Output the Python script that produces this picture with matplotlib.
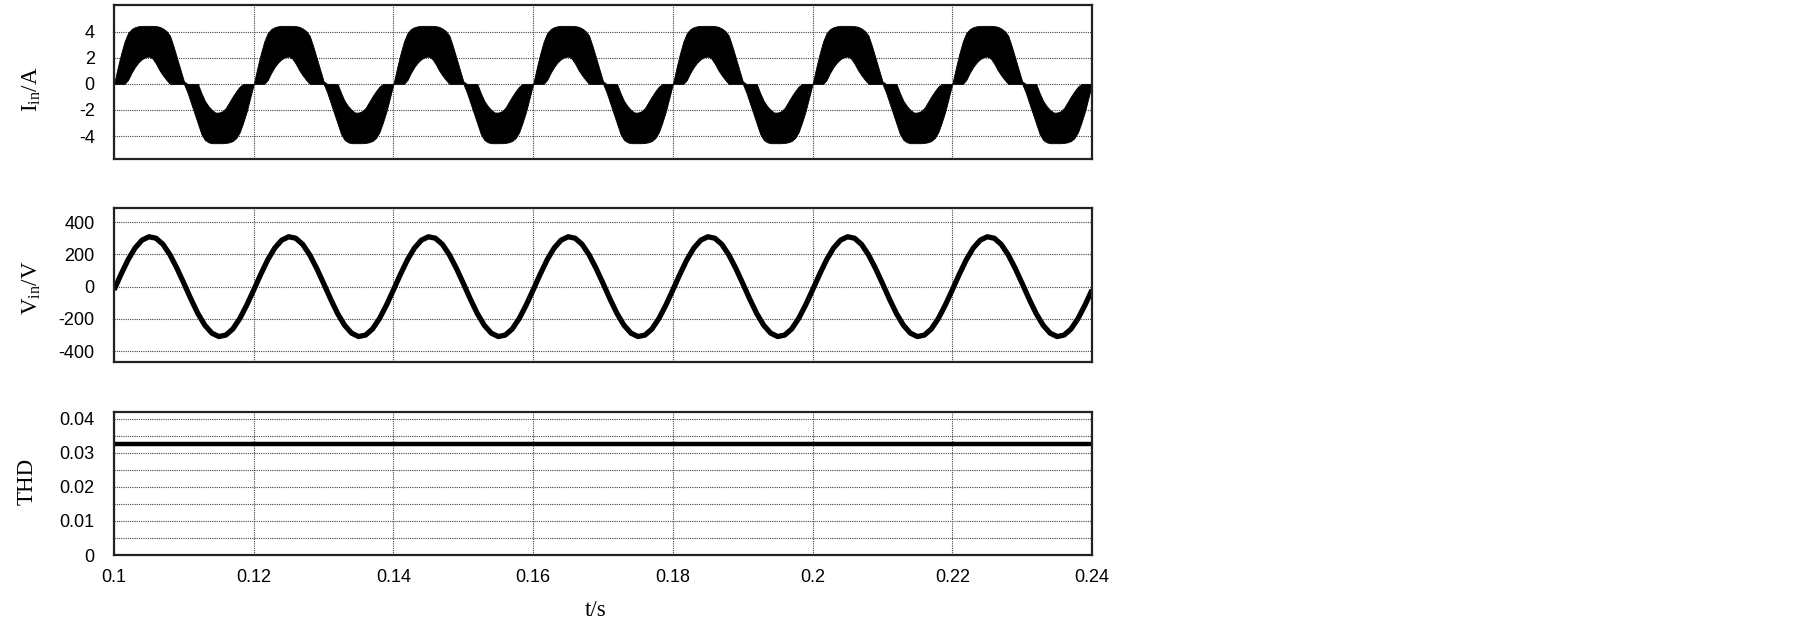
import numpy as np
import matplotlib
matplotlib.use('Agg')
from matplotlib import pyplot as plt
from matplotlib.ticker import MultipleLocator

plt.rcParams['font.family'] = ['Liberation Sans', 'DejaVu Sans']
plt.rcParams['axes.unicode_minus'] = False

# one period (20 ms) of the input current band, read every 0.5 ms
period_ms = [0, 0.5, 1, 1.5, 2, 2.5, 3, 3.5, 4, 4.5, 5, 5.5, 6, 6.5, 7, 7.5, 8, 8.5, 9, 9.5,
             10, 10.5, 11, 11.5, 12, 12.5, 13, 13.5, 14, 14.5, 15, 15.5, 16, 16.5, 17, 17.5,
             18, 18.5, 19, 19.5, 20]
i_upper = [0, 1.2, 2.3, 3.25, 3.9, 4.2, 4.35, 4.42, 4.45, 4.45, 4.45, 4.45, 4.43, 4.38, 4.25,
           4.05, 3.7, 2.9, 2.0, 1.1, 0.2, 0, 0, 0, 0, -0.7, -1.3, -1.7, -2.0, -2.2, -2.2,
           -2.1, -1.85, -1.4, -0.95, -0.55, -0.2, 0, 0, 0, 0]
i_lower = [0, 0, 0, 0, 0.3, 0.85, 1.3, 1.65, 1.9, 2.05, 2.1, 1.95, 1.55, 1.05, 0.65, 0.3, 0, 0,
           0, 0, 0, -0.65, -1.45, -2.25, -3.05, -3.85, -4.3, -4.48, -4.55, -4.55, -4.55, -4.55,
           -4.53, -4.48, -4.38, -4.15, -3.7, -2.95, -2.1, -1.05, 0]

# one period of the input voltage, read every 1 ms
v_period_ms = [0, 1, 2, 3, 4, 5, 6, 7, 8, 9, 10, 11, 12, 13, 14, 15, 16, 17, 18, 19, 20]
v_in = [-20, 77, 167, 240, 289, 310, 301, 263, 198, 114, 20, -77, -167, -240, -289, -310,
        -301, -263, -198, -114, -20]

# THD
thd_t = [0.1, 0.12, 0.12, 0.24]
thd = [0.0325, 0.0325, 0.0327, 0.0327]

t_start = 0.1
n_periods = 7
x_ticks = [0.1, 0.12, 0.14, 0.16, 0.18, 0.2, 0.22, 0.24]


def tile_period(t_ms, values):
    t_ms = np.asarray(t_ms, dtype=float)
    values = np.asarray(values, dtype=float)
    ts, vs = [], []
    for k in range(n_periods):
        sl = slice(0, None) if k == 0 else slice(1, None)
        ts.append(t_start + (k * 20 + t_ms[sl]) / 1000.0)
        vs.append(values[sl])
    return np.concatenate(ts), np.concatenate(vs)


def style_axes(ax):
    for sp in ax.spines.values():
        sp.set_linewidth(1.6)
        sp.set_color('#222222')
    ax.set_xlim(x_ticks[0], x_ticks[-1])
    ax.set_xticks(x_ticks)
    ax.tick_params(length=0, pad=14, labelsize=13)
    ax.grid(True, which='both', linestyle=(0, (1, 1)), color='#444444', linewidth=0.8)
    ax.set_axisbelow(True)


def main():
    fig = plt.figure(figsize=(18.05, 6.23), dpi=100)
    ax1 = fig.add_axes([0.0632, 0.7448, 0.5418, 0.2472])
    ax2 = fig.add_axes([0.0632, 0.4190, 0.5418, 0.2472])
    ax3 = fig.add_axes([0.0632, 0.1091, 0.5418, 0.2295])

    t_i, up = tile_period(period_ms, i_upper)
    _, lo = tile_period(period_ms, i_lower)
    ax1.fill_between(t_i, lo, up, color='black', linewidth=0.6, edgecolor='black')
    ax1.set_ylim(-5.76, 6.05)
    ax1.set_yticks([-4, -2, 0, 2, 4])
    style_axes(ax1)
    ax1.set_xticklabels([])

    t_v, v = tile_period(v_period_ms, v_in)
    ax2.plot(t_v, v, color='black', linewidth=3.8, solid_capstyle='butt')
    ax2.set_ylim(-468, 489)
    ax2.set_yticks([-400, -200, 0, 200, 400])
    style_axes(ax2)
    ax2.set_xticklabels([])

    ax3.plot(thd_t, thd, color='black', linewidth=3.2, solid_capstyle='butt')
    ax3.set_ylim(0, 0.042)
    ax3.set_yticks([0, 0.01, 0.02, 0.03, 0.04])
    ax3.set_yticklabels(['0', '0.01', '0.02', '0.03', '0.04'])
    ax3.yaxis.set_minor_locator(MultipleLocator(0.005))
    style_axes(ax3)
    ax3.tick_params(axis='x', pad=10)
    ax3.tick_params(which='minor', length=0)
    ax3.set_xticklabels([f'{x:g}' for x in x_ticks])

    serif = ['Liberation Serif', 'DejaVu Serif']
    fig.text(32 / 1805, 1 - 89 / 623, 'I$_\\mathregular{in}$/A', rotation=90, ha='center',
             va='center', fontsize=16.5, family=serif)
    fig.text(32 / 1805, 1 - 288 / 623, 'V$_\\mathregular{in}$/V', rotation=90, ha='center',
             va='center', fontsize=16.5, family=serif)
    fig.text(27.5 / 1805, 1 - 481 / 623, 'THD', rotation=90, ha='center', va='center',
             fontsize=16.5, family=serif)
    fig.text(596 / 1805, 1 - 611 / 623, 't/s', ha='center', va='center', fontsize=16.5,
             family=serif)

    fig.savefig('out.png', dpi=100)


if __name__ == '__main__':
    main()
